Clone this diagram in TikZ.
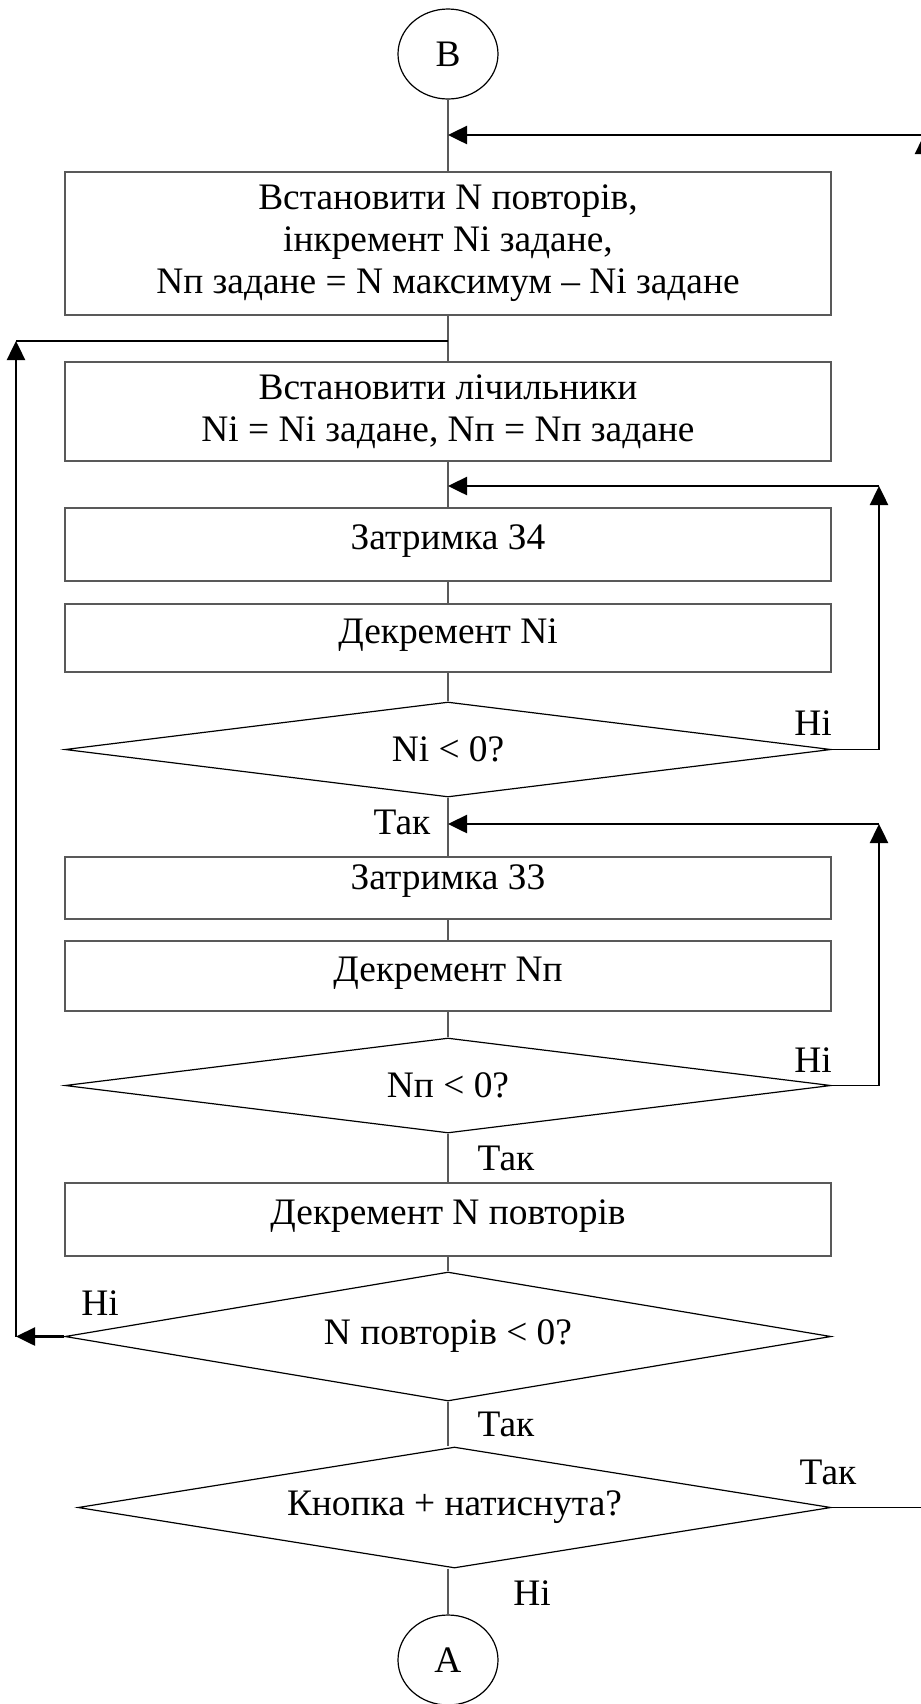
\documentclass[tikz,border=0pt]{standalone}
\usepackage{fontspec}
\setmainfont{Liberation Serif}
\usetikzlibrary{shapes.geometric,arrows.meta}
\begin{document}
\begin{tikzpicture}[x=0.5pt,y=-0.5pt,
  every node/.style={font=\fontsize{18.7}{21}\selectfont, inner sep=0pt},
  procbox/.style={draw=black!65, line width=0.7pt, rectangle, minimum width=383pt, align=center},
  oneline/.style={text height=12.5pt, text depth=7.5pt},
  decision/.style={draw=black, line width=0.6pt, diamond, aspect=8, align=center},
  terminal/.style={draw=black, line width=0.6pt, ellipse, minimum width=50pt, minimum height=45pt},
  link/.style={draw=black!65, line width=0.6pt},
  flowline/.style={draw=black, line width=0.6pt},
  loopline/.style={draw=black, line width=1.25pt},
  loopto/.style={loopline, -{Triangle[length=9.5pt,width=9pt]}},
  tag/.style={inner sep=0pt}
]
\useasboundingbox (0,0) rectangle (921,1704);
\clip (0,0) rectangle (921,1704);

% main column
\node[terminal] (B) at (448,54) {В};
\node[procbox, minimum height=71.5pt] (s1) at (448,243.5)
  {Встановити N повторів,\\інкремент Ni задане,\\Nп задане = N максимум – Ni задане};
\node[procbox, minimum height=49.5pt] (s2) at (448,411.5)
  {Встановити лічильники\\Ni = Ni задане, Nп = Nп задане};
\node[procbox, oneline, minimum height=36.5pt] (s3) at (448,544.5) {Затримка З4};
\node[procbox, oneline, minimum height=34pt] (s4) at (448,638) {Декремент Ni};
\node[decision, minimum width=383pt, minimum height=47.5pt] (d1) at (448,749.5) {Ni < 0?};
\node[procbox, oneline, text depth=11pt, minimum height=31pt] (s5) at (448,888) {Затримка З3};
\node[procbox, oneline, minimum height=35pt] (s6) at (448,976) {Декремент Nп};
\node[decision, minimum width=383pt, minimum height=47.5pt] (d2) at (448,1085.5) {Nп < 0?};
\node[procbox, oneline, minimum height=36.5pt] (s7) at (448,1219.5) {Декремент N повторів};
\node[decision, minimum width=383pt, minimum height=64.5pt] (d3) at (448,1336.5) {N повторів < 0?};
\node[decision, minimum width=376.5pt, minimum height=60.5pt] (d4) at (454.5,1507.5) {Кнопка + натиснута?};
\node[terminal] (A) at (448,1660) {А};

% branch labels
\node[tag] (l1) at (813,723) {Ні};
\node[tag] (l2) at (402,822) {Так};
\node[tag] (l3) at (813,1060) {Ні};
\node[tag] (l4) at (506,1158) {Так};
\node[tag] (l5) at (100,1303) {Ні};
\node[tag] (l6) at (506,1424) {Так};
\node[tag] (l7) at (828,1472) {Так};
\node[tag] (l8) at (532,1593) {Ні};

% joints on the main column and loop rails
\coordinate (jT) at (448,135);
\coordinate (j0) at (448,341);
\coordinate (j1) at (448,486);
\coordinate (j2) at (448,824);
\coordinate (railR) at (879,0);
\coordinate (railL) at (16,0);
\coordinate (railT) at (924,0);

% straight connectors
\draw[link] (B) -- (s1);
\draw[link] (s1) -- (s2);
\draw[link] (s2) -- (s3);
\draw[link] (s3) -- (s4);
\draw[link] (s4) -- (d1);
\draw[link] (d1) -- (s5);
\draw[link] (s5) -- (s6);
\draw[link] (s6) -- (d2);
\draw[link] (d2) -- (s7);
\draw[link] (s7) -- (d3);
\draw[link] (d3.south) -- (d3.south |- d4.north);
\draw[link] (A.north |- d4.south) -- (A);

% inner loop: Ni
\draw[flowline] (d1.east) -- (d1.east -| railR);
\draw[loopto] (d1.east -| railR) -- (j1 -| railR);
\draw[loopto] (j1 -| railR) -- (j1);

% inner loop: Nп
\draw[flowline] (d2.east) -- (d2.east -| railR);
\draw[loopto] (d2.east -| railR) -- (j2 -| railR);
\draw[loopto] (j2 -| railR) -- (j2);

% outer loop: N повторів
\draw[loopto] (d3.west) -- (d3.west -| railL);
\draw[loopto] (d3.west -| railL) -- (j0 -| railL);
\draw[flowline] (j0 -| railL) -- (j0);

% return to the start when the button is pressed
\draw[flowline] (d4.east) -- (d4.east -| railT);
\draw[loopto] (d4.east -| railT) -- (jT -| railT);
\draw[loopto] (jT -| railT) -- (jT);
\end{tikzpicture}
\end{document}
